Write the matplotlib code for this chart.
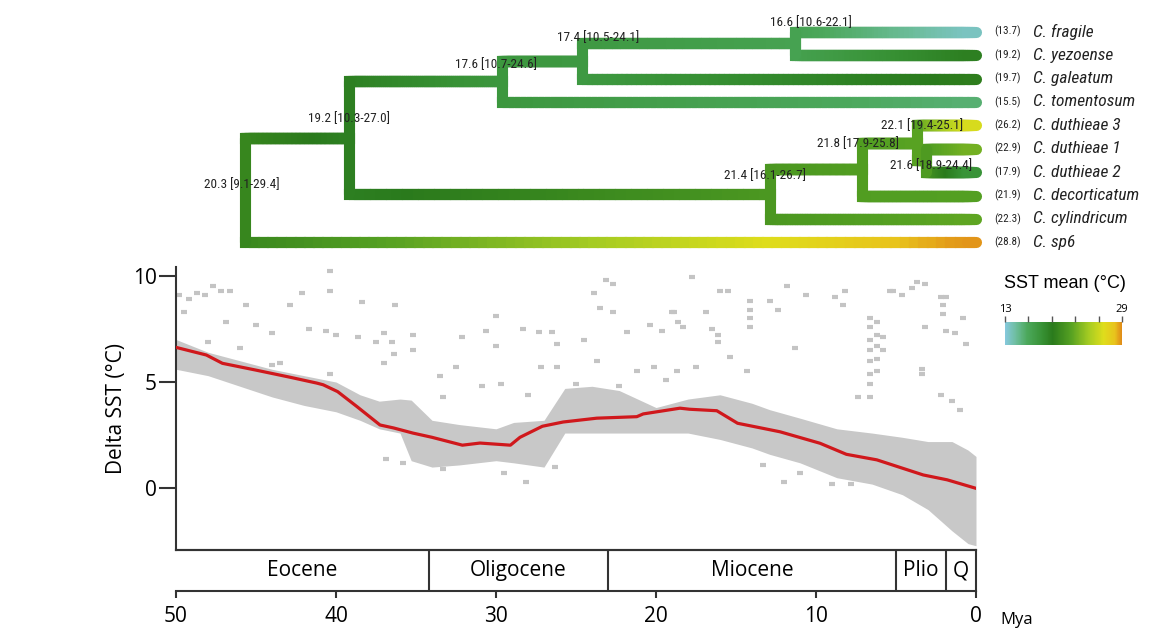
import numpy as np
import matplotlib.pyplot as plt
from matplotlib import font_manager
from matplotlib.collections import LineCollection
from matplotlib.colors import LinearSegmentedColormap, Normalize

# ---- tree data ----
tip_names = ["C. fragile", "C. yezoense", "C. galeatum", "C. tomentosum", "C. duthieae 3",
             "C. duthieae 1", "C. duthieae 2", "C. decorticatum", "C. cylindricum", "C. sp6"]
tip_sst = [13.7, 19.2, 19.7, 15.5, 26.2, 22.9, 17.9, 21.9, 22.3, 28.8]

# internal nodes (children are tip indices or node keys)
node_keys = ["A", "B", "C", "D", "E", "F", "G", "H", "I"]
node_children = [["B", 9], ["C", "F"], ["D", 3], ["E", 2], [0, 1], ["G", 8], ["H", 7], [4, "I"], [5, 6]]
node_age = [45.7, 39.2, 29.6, 24.6, 11.3, 12.9, 7.1, 3.7, 3.1]
node_sst = [20.3, 19.2, 17.6, 17.4, 16.6, 21.4, 21.8, 22.1, 21.6]
node_lo = [9.1, 10.3, 10.7, 10.5, 10.6, 16.1, 17.9, 19.4, 18.9]
node_hi = [29.4, 27.0, 24.6, 24.1, 22.1, 26.7, 25.8, 25.1, 24.4]

# ---- delta SST data ----
trend_age = [50, 48.1, 47.1, 45, 42.9, 41.2, 40.8, 39.9, 38.7, 37.25, 36.4, 35.2, 34, 32.1, 31,
             29.1, 28.5, 27.1, 25.8, 23.7, 21.2, 20.8, 18.5, 17.9, 16.2, 14.9, 13.7, 12.25, 9.75,
             8.1, 6.2, 3.3, 1.8, 0]
trend_val = [6.63, 6.27, 5.88, 5.56, 5.23, 4.95, 4.87, 4.55, 3.85, 2.98, 2.84, 2.6, 2.4, 2.03, 2.13,
             2.03, 2.4, 2.92, 3.12, 3.3, 3.37, 3.5, 3.77, 3.72, 3.65, 3.06, 2.88, 2.66, 2.12,
             1.6, 1.34, 0.63, 0.4, 0.0]

# dense cloud of points (envelope)
cloud_age = [50, 48, 46, 44, 42, 40, 38.5, 37.3, 36, 35.3, 34, 32.3, 30, 28.9, 27, 25.7, 24, 22.3,
             20, 18, 16, 14, 12.9, 11, 8.7, 6.5, 4.6, 3, 1.5, 0.5, 0]
cloud_hi = [7.0, 6.4, 6.0, 5.6, 5.3, 5.0, 4.4, 4.1, 4.2, 4.15, 3.2, 3.0, 2.8, 3.1, 3.2, 4.7, 4.8, 4.6,
            3.8, 4.2, 4.4, 4.0, 3.7, 3.3, 2.8, 2.6, 2.4, 2.2, 2.2, 1.8, 1.5]
cloud_lo = [5.6, 5.3, 4.8, 4.3, 3.9, 3.6, 3.2, 2.8, 2.6, 1.3, 1.0, 1.1, 1.3, 1.2, 1.0, 2.6, 2.6, 2.6,
            2.6, 2.6, 2.3, 1.9, 1.6, 1.2, 0.5, 0.2, -0.3, -1.0, -2.0, -2.6, -2.7]

# scattered points outside the cloud
pts_age = [49.8, 49.2, 48.7, 48.2, 47.7, 47.2, 46.6, 45.6, 42.1, 40.4, 40.4, 38.4, 42.9, 46.9, 45.0,
           44.0, 41.7, 40.6, 40.0, 38.6, 37.5, 36.5, 48.0, 46.0, 44.0, 40.4, 37.0, 49.5, 43.5,
           36.3, 35.2, 37.0, 36.4, 32.1, 30.6, 30.0, 30.0, 28.3, 27.3, 26.5, 26.2, 26.2, 27.2,
           23.9, 23.1, 22.7, 23.5, 22.7, 21.8, 24.5, 20.4, 19.6, 18.9, 20.1, 21.2, 23.7, 35.2,
           32.5, 30.9, 33.5, 29.7, 28.0, 25.0, 22.3, 19.4, 33.3, 28.1, 36.9, 35.8, 33.3, 29.5, 26.3,
           17.75, 11.8, 3.7, 3.2, 4.0, 5.2, 4.6, 5.4, 16.0, 15.5, 8.2, 8.8, 8.3, 10.6, 2.2, 1.9,
           14.1, 14.1, 14.1, 14.1, 16.1, 16.1, 6.6, 6.6, 6.6, 6.6, 6.6, 6.6, 6.6, 6.6,
           6.2, 6.2, 6.2, 6.2, 6.2, 5.8, 5.8, 2.05, 2.05, 1.9, 1.3, 0.8, 0.6, 3.2, 3.4, 3.4,
           2.2, 1.5, 1.0, 16.9, 18.6, 18.3, 19.0, 16.5, 12.9, 12.4, 15.4, 14.3, 11.3, 18.7, 17.5,
           7.4, 12.0, 9.0, 7.8, 11.0, 13.3]
pts_val = [9.1, 8.9, 9.2, 9.1, 9.5, 9.3, 9.3, 8.6, 9.2, 10.2, 9.3, 8.75, 8.6, 7.8, 7.7,
           7.3, 7.5, 7.4, 7.2, 7.1, 6.9, 6.9, 6.9, 6.6, 5.8, 5.4, 5.9, 8.3, 5.9,
           8.6, 7.2, 7.3, 6.3, 7.1, 7.4, 8.1, 6.7, 7.5, 7.35, 7.35, 6.8, 5.7, 5.7,
           9.2, 9.8, 9.6, 8.5, 8.3, 7.35, 7.0, 7.7, 7.4, 8.3, 5.7, 5.5, 6.0, 6.5,
           5.7, 4.8, 5.3, 4.9, 4.4, 4.9, 4.8, 5.1, 4.3, 0.3, 1.4, 1.2, 0.9, 0.7, 1.0,
           9.95, 9.5, 9.7, 9.6, 9.4, 9.3, 9.1, 9.3, 9.3, 9.3, 9.3, 9.0, 8.6, 9.1, 9.0, 9.0,
           8.8, 8.4, 8.0, 7.6, 7.2, 6.9, 8.0, 7.6, 7.0, 6.5, 6.0, 5.4, 4.9, 4.3,
           7.8, 7.2, 6.7, 6.1, 5.5, 7.1, 6.5, 8.6, 8.2, 7.4, 7.3, 8.0, 6.8, 7.6, 5.6, 5.4,
           4.4, 4.1, 3.7, 8.3, 7.8, 7.6, 8.3, 7.5, 8.8, 8.4, 6.2, 5.5, 6.6, 5.5, 5.7,
           4.3, 0.3, 0.2, 0.2, 0.7, 1.1]

epoch_names = ["Eocene", "Oligocene", "Miocene", "Plio", "Q"]
epoch_bounds = [50, 34.2, 23.0, 5.0, 1.9, 0]
time_ticks = [50, 40, 30, 20, 10, 0]

# ---- colours ----
sst_min, sst_max = 13, 29
anchors = [(13, "#86c9de"), (14.5, "#6dbd9c"), (16, "#4ca85c"), (18, "#389236"), (19.5, "#2a7a1c"),
           (22, "#55a022"), (24.5, "#a6cc22"), (26.5, "#dedd1c"), (28, "#e8c41c"), (29, "#e08a18")]
cmap = LinearSegmentedColormap.from_list(
    "sst", [((v - sst_min) / (sst_max - sst_min), c) for v, c in anchors])
norm = Normalize(sst_min, sst_max)

# a condensed face for the tree labels if one is installed
have = {f.name for f in font_manager.fontManager.ttflist}
narrow_name = next((n for n in ["Liberation Sans Narrow", "Arial Narrow", "Roboto Condensed",
                                "Open Sans Condensed", "Noto Sans Condensed", "DejaVu Sans Condensed"]
                    if n in have), None)
narrow = [narrow_name or "Liberation Sans", "DejaVu Sans"]
sp_size = 12.5 if narrow_name else 10.8
nd_size = 9.5 if narrow_name else 9

W, H = 1152, 632
fig = plt.figure(figsize=(W / 100, H / 100), dpi=100)
plt.rcParams['font.family'] = ['Open Sans', 'DejaVu Sans']


def box(x0, y0, x1, y1):
    return [x0 / W, 1 - y1 / H, (x1 - x0) / W, (y1 - y0) / H]


# ---- tree ----
axt = fig.add_axes(box(176, 20, 976, 254))
axt.set_xlim(50, 0)
axt.set_ylim(9.5, -0.5)
axt.axis("off")

idx = {k: i for i, k in enumerate(node_keys)}
node_y = {}


def get_y(c):
    if isinstance(c, int):
        return float(c)
    if c not in node_y:
        node_y[c] = np.mean([get_y(ch) for ch in node_children[idx[c]]])
    return node_y[c]


def info(c):
    if isinstance(c, int):
        return 0.0, tip_sst[c], float(c)
    i = idx[c]
    return node_age[i], node_sst[i], get_y(c)


LW = 8
for k in node_keys:
    pa, pv, py = info(k)
    ys = []
    for ch in node_children[idx[k]]:
        ca, cv, cy = info(ch)
        ys.append(cy)
        is_tip = isinstance(ch, int)
        end = 0.45 if is_tip else ca
        xs = np.linspace(pa, end, 80)
        vs = np.linspace(pv, cv, 80)
        segs = [[(xs[j], cy), (xs[j + 1], cy)] for j in range(len(xs) - 1)]
        lc = LineCollection(segs, colors=cmap(norm((vs[:-1] + vs[1:]) / 2)),
                            linewidths=LW, capstyle="projecting", zorder=2, clip_on=False)
        axt.add_collection(lc)
        if is_tip:
            # rounded tip end
            axt.plot([0.55, 0], [cy, cy], color=cmap(norm(cv)), lw=LW,
                     solid_capstyle="round", zorder=2.5, clip_on=False)
    axt.plot([pa, pa], [min(ys), max(ys)], color=cmap(norm(pv)), lw=LW,
             solid_capstyle="round", zorder=3, clip_on=False)

# node labels: (dx in Mya, y in tip units)
label_pos = {"A": (0.2, 6.55), "B": (0.0, 3.69), "C": (0.4, 1.42), "D": (-1.0, 0.27),
             "E": (-1.0, -0.41), "F": (0.3, 6.13), "G": (0.25, 4.76), "H": (-0.3, 3.99),
             "I": (-0.3, 5.7)}
for k in node_keys:
    i = idx[k]
    dx, ly = label_pos[k]
    axt.text(node_age[i] + dx, ly, f"{node_sst[i]:.1f} [{node_lo[i]:.1f}-{node_hi[i]:.1f}]",
             ha="center", va="center", fontsize=nd_size, family=narrow, color="#222222", zorder=5)

for t, (name, v) in enumerate(zip(tip_names, tip_sst)):
    axt.text(-1.15, t, f"({v:.1f})", ha="left", va="center", fontsize=8, family=narrow,
             color="#222222", clip_on=False)
    axt.text(-3.55, t, name, ha="left", va="center", fontsize=sp_size, family=narrow,
             style="italic", color="#222222", clip_on=False)

# ---- delta SST panel ----
ax = fig.add_axes(box(176, 267, 976, 550))
ax.set_xlim(50, 0)
ax.set_ylim(-2.9, 10.41)
ax.fill_between(cloud_age, cloud_lo, cloud_hi, color="#c8c8c8", lw=0, zorder=1)
ax.plot(pts_age, pts_val, ls="none", marker="_", ms=5, mew=3, color="#c4c4c4", zorder=1)
ax.plot(trend_age, trend_val, color="#d0181c", lw=2.3, zorder=3)
for s in ["top", "right"]:
    ax.spines[s].set_visible(False)
for s in ["left", "bottom"]:
    ax.spines[s].set_linewidth(1.5)
    ax.spines[s].set_color("#333333")
ax.set_xticks([])
ax.set_yticks([0, 5, 10])
ax.tick_params(axis="y", length=12, width=1.5, color="#333333", pad=2, labelsize=15)
ax.set_ylabel("Delta SST (°C)", fontsize=15, labelpad=4)

# ---- epochs / time axis ----
axe = fig.add_axes(box(176, 550, 976, 591))
axe.set_xlim(50, 0)
axe.set_ylim(0, 1)
axe.patch.set_alpha(0)
axe.spines["left"].set_visible(False)
for s in ["top", "right", "bottom"]:
    axe.spines[s].set_linewidth(1.5)
    axe.spines[s].set_color("#333333")
for b in epoch_bounds[1:-1]:
    axe.axvline(b, color="#333333", lw=1.5)
for name, a, b in zip(epoch_names, epoch_bounds[:-1], epoch_bounds[1:]):
    axe.text((a + b) / 2, 0.5, name, ha="center", va="center", fontsize=15)
axe.set_yticks([])
axe.set_xticks(time_ticks)
axe.tick_params(axis="x", length=5, width=1.5, color="#333333", pad=6, labelsize=15)
axe.text(1.03, -0.7, "Mya", transform=axe.transAxes, ha="left", va="center", fontsize=12)

# ---- colour bar ----
axc = fig.add_axes(box(1005, 322, 1122, 345))
cb = fig.colorbar(plt.cm.ScalarMappable(norm=norm, cmap=cmap), cax=axc, orientation="horizontal")
cb.outline.set_visible(False)
axc.xaxis.set_ticks_position("top")
cb.set_ticks(np.linspace(13, 29, 6))
cb.set_ticklabels(["13", "", "", "", "", "29"])
axc.tick_params(axis="x", length=4, width=1, color="#555555", labelsize=8, pad=1)
fig.text(1065 / W, 1 - 284 / H, "SST mean (°C)", ha="center", va="center", fontsize=13,
         family=['Liberation Sans', 'DejaVu Sans'])

fig.savefig("out.png", dpi=100)
